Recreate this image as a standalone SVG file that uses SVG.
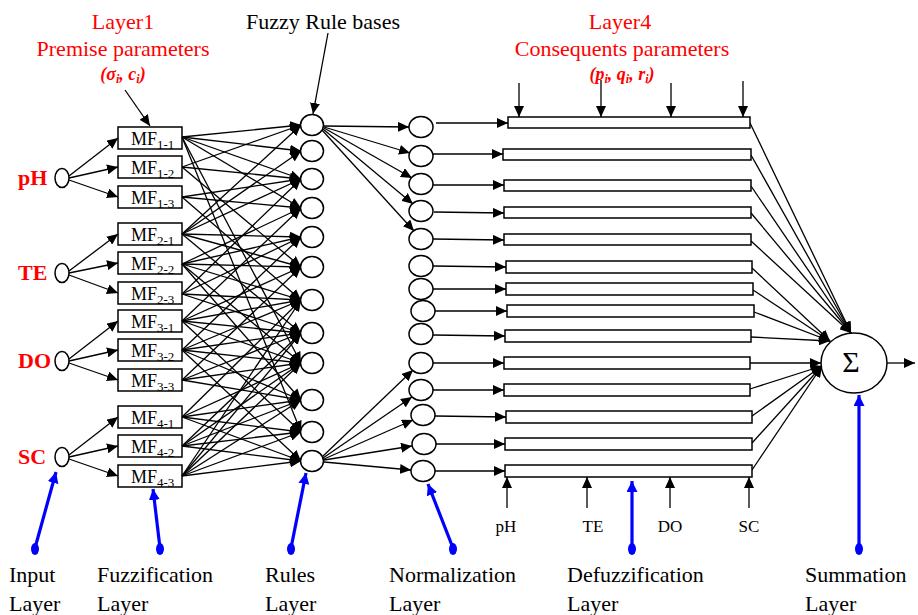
<svg xmlns="http://www.w3.org/2000/svg" width="918" height="615" viewBox="0 0 918 615">
  <style>
    text { font-family: "Liberation Serif", "Times New Roman", serif; }
    .red { fill: #ff0000; }
    .t22 { font-size: 22px; }
    .inp { font-size: 22px; font-weight: bold; fill: #ff0000; }
    .par { font-size: 18px; font-weight: bold; font-style: italic; fill: #ff0000; }
    .mf { font-size: 18px; }
    .sub { font-size: 13px; }
    .small { font-size: 17px; }
    .node { fill: #fff; stroke: #000; stroke-width: 1.5; }
    .bar { fill: #fff; stroke: #000; stroke-width: 1.5; }
    .c { stroke: #000; stroke-width: 1.3; fill: none; marker-end: url(#ah); }
    .b { stroke: #0000ff; stroke-width: 3.2; fill: none; marker-end: url(#bh); }
    .dot { fill: #0000ff; }
  </style>
  <defs>
    <marker id="ah" markerUnits="userSpaceOnUse" markerWidth="12" markerHeight="10" refX="11" refY="5" orient="auto">
      <path d="M0,0 L11,5 L0,10 z" fill="#000"/>
    </marker>
    <marker id="bh" markerUnits="userSpaceOnUse" markerWidth="12" markerHeight="12" refX="11" refY="5.5" orient="auto">
      <path d="M0,0 L11,5.5 L0,11 z" fill="#0000ff"/>
    </marker>
  </defs>
  <rect width="918" height="615" fill="#fff"/>

  <!-- headings -->
  <g id="headings">
    <text class="t22 red" x="123" y="29" text-anchor="middle">Layer1</text>
    <text class="t22 red" x="123" y="56" text-anchor="middle">Premise parameters</text>
    <text class="par" x="123" y="80" text-anchor="middle">(σ<tspan font-size="12" dy="3">i</tspan><tspan dy="-3">, c</tspan><tspan font-size="12" dy="3">i</tspan><tspan dy="-3">)</tspan></text>
    <text class="t22" x="323" y="29" text-anchor="middle">Fuzzy Rule bases</text>
    <text class="t22 red" x="620" y="29" text-anchor="middle">Layer4</text>
    <text class="t22 red" x="622" y="56" text-anchor="middle">Consequents parameters</text>
    <text class="par" x="622" y="80" text-anchor="middle">(p<tspan font-size="12" dy="3">i</tspan><tspan dy="-3">, q</tspan><tspan font-size="12" dy="3">i</tspan><tspan dy="-3">, r</tspan><tspan font-size="12" dy="3">i</tspan><tspan dy="-3">)</tspan></text>
  </g>

  <!-- input nodes -->
  <g id="in-pH"><ellipse class="node" cx="62" cy="178" rx="7" ry="9.5"/><text class="inp" x="18" y="185">pH</text></g>
  <g id="in-TE"><ellipse class="node" cx="62" cy="273" rx="7" ry="9.5"/><text class="inp" x="18" y="280">TE</text></g>
  <g id="in-DO"><ellipse class="node" cx="62" cy="361" rx="7" ry="9.5"/><text class="inp" x="18" y="368">DO</text></g>
  <g id="in-SC"><ellipse class="node" cx="62" cy="457" rx="7" ry="9.5"/><text class="inp" x="18" y="464">SC</text></g>

  <!-- membership function boxes -->
  <g id="mf-1-1"><rect class="node" x="118" y="127" width="64" height="22"/><text class="mf" x="131" y="145">MF<tspan class="sub" dy="4">1-1</tspan></text></g>
  <g id="mf-1-2"><rect class="node" x="118" y="156" width="64" height="22"/><text class="mf" x="131" y="174">MF<tspan class="sub" dy="4">1-2</tspan></text></g>
  <g id="mf-1-3"><rect class="node" x="118" y="186" width="64" height="22"/><text class="mf" x="131" y="204">MF<tspan class="sub" dy="4">1-3</tspan></text></g>
  <g id="mf-2-1"><rect class="node" x="118" y="223" width="64" height="22"/><text class="mf" x="131" y="241">MF<tspan class="sub" dy="4">2-1</tspan></text></g>
  <g id="mf-2-2"><rect class="node" x="118" y="252" width="64" height="22"/><text class="mf" x="131" y="270">MF<tspan class="sub" dy="4">2-2</tspan></text></g>
  <g id="mf-2-3"><rect class="node" x="118" y="282" width="64" height="22"/><text class="mf" x="131" y="300">MF<tspan class="sub" dy="4">2-3</tspan></text></g>
  <g id="mf-3-1"><rect class="node" x="118" y="310" width="64" height="22"/><text class="mf" x="131" y="328">MF<tspan class="sub" dy="4">3-1</tspan></text></g>
  <g id="mf-3-2"><rect class="node" x="118" y="339" width="64" height="22"/><text class="mf" x="131" y="357">MF<tspan class="sub" dy="4">3-2</tspan></text></g>
  <g id="mf-3-3"><rect class="node" x="118" y="369" width="64" height="22"/><text class="mf" x="131" y="387">MF<tspan class="sub" dy="4">3-3</tspan></text></g>
  <g id="mf-4-1"><rect class="node" x="118" y="406" width="64" height="22"/><text class="mf" x="131" y="424">MF<tspan class="sub" dy="4">4-1</tspan></text></g>
  <g id="mf-4-2"><rect class="node" x="118" y="435" width="64" height="22"/><text class="mf" x="131" y="453">MF<tspan class="sub" dy="4">4-2</tspan></text></g>
  <g id="mf-4-3"><rect class="node" x="118" y="465" width="64" height="22"/><text class="mf" x="131" y="483">MF<tspan class="sub" dy="4">4-3</tspan></text></g>

  <!-- connectors -->
  <g id="connectors">
    <!-- inputs to membership functions -->
    <line class="c" x1="69" y1="176" x2="118" y2="138"/>
    <line class="c" x1="69" y1="178" x2="118" y2="167"/>
    <line class="c" x1="69" y1="180" x2="118" y2="197"/>
    <line class="c" x1="69" y1="271" x2="118" y2="234"/>
    <line class="c" x1="69" y1="273" x2="118" y2="263"/>
    <line class="c" x1="69" y1="275" x2="118" y2="293"/>
    <line class="c" x1="69" y1="359" x2="118" y2="321"/>
    <line class="c" x1="69" y1="361" x2="118" y2="350"/>
    <line class="c" x1="69" y1="363" x2="118" y2="380"/>
    <line class="c" x1="69" y1="455" x2="118" y2="417"/>
    <line class="c" x1="69" y1="457" x2="118" y2="446"/>
    <line class="c" x1="69" y1="459" x2="118" y2="476"/>

    <!-- membership functions to rules -->
    <line class="c" x1="182" y1="137" x2="301" y2="125"/>
    <line class="c" x1="182" y1="137" x2="301" y2="151"/>
    <line class="c" x1="182" y1="137" x2="301" y2="179"/>
    <line class="c" x1="182" y1="137" x2="301" y2="208"/>
    <line class="c" x1="182" y1="137" x2="301" y2="363"/>
    <line class="c" x1="182" y1="137" x2="301" y2="432"/>
    <line class="c" x1="182" y1="167" x2="301" y2="125"/>
    <line class="c" x1="182" y1="167" x2="301" y2="179"/>
    <line class="c" x1="182" y1="167" x2="301" y2="267"/>
    <line class="c" x1="182" y1="197" x2="301" y2="179"/>
    <line class="c" x1="182" y1="197" x2="301" y2="208"/>
    <line class="c" x1="182" y1="197" x2="301" y2="300"/>
    <line class="c" x1="182" y1="234" x2="301" y2="125"/>
    <line class="c" x1="182" y1="234" x2="301" y2="151"/>
    <line class="c" x1="182" y1="234" x2="301" y2="179"/>
    <line class="c" x1="182" y1="234" x2="301" y2="237"/>
    <line class="c" x1="182" y1="234" x2="301" y2="267"/>
    <line class="c" x1="182" y1="234" x2="301" y2="333"/>
    <line class="c" x1="182" y1="264" x2="301" y2="208"/>
    <line class="c" x1="182" y1="264" x2="301" y2="237"/>
    <line class="c" x1="182" y1="264" x2="301" y2="267"/>
    <line class="c" x1="182" y1="264" x2="301" y2="300"/>
    <line class="c" x1="182" y1="264" x2="301" y2="363"/>
    <line class="c" x1="182" y1="264" x2="301" y2="400"/>
    <line class="c" x1="182" y1="294" x2="301" y2="179"/>
    <line class="c" x1="182" y1="294" x2="301" y2="237"/>
    <line class="c" x1="182" y1="294" x2="301" y2="300"/>
    <line class="c" x1="182" y1="294" x2="301" y2="333"/>
    <line class="c" x1="182" y1="321" x2="301" y2="208"/>
    <line class="c" x1="182" y1="321" x2="301" y2="267"/>
    <line class="c" x1="182" y1="321" x2="301" y2="300"/>
    <line class="c" x1="182" y1="321" x2="301" y2="333"/>
    <line class="c" x1="182" y1="321" x2="301" y2="363"/>
    <line class="c" x1="182" y1="321" x2="301" y2="432"/>
    <line class="c" x1="182" y1="350" x2="301" y2="237"/>
    <line class="c" x1="182" y1="350" x2="301" y2="300"/>
    <line class="c" x1="182" y1="350" x2="301" y2="333"/>
    <line class="c" x1="182" y1="350" x2="301" y2="363"/>
    <line class="c" x1="182" y1="350" x2="301" y2="400"/>
    <line class="c" x1="182" y1="350" x2="301" y2="461"/>
    <line class="c" x1="182" y1="380" x2="301" y2="267"/>
    <line class="c" x1="182" y1="380" x2="301" y2="333"/>
    <line class="c" x1="182" y1="380" x2="301" y2="363"/>
    <line class="c" x1="182" y1="380" x2="301" y2="400"/>
    <line class="c" x1="182" y1="417" x2="301" y2="300"/>
    <line class="c" x1="182" y1="417" x2="301" y2="363"/>
    <line class="c" x1="182" y1="417" x2="301" y2="400"/>
    <line class="c" x1="182" y1="417" x2="301" y2="432"/>
    <line class="c" x1="182" y1="417" x2="301" y2="461"/>
    <line class="c" x1="182" y1="446" x2="301" y2="333"/>
    <line class="c" x1="182" y1="446" x2="301" y2="363"/>
    <line class="c" x1="182" y1="446" x2="301" y2="400"/>
    <line class="c" x1="182" y1="446" x2="301" y2="432"/>
    <line class="c" x1="182" y1="446" x2="301" y2="461"/>
    <line class="c" x1="182" y1="476" x2="301" y2="300"/>
    <line class="c" x1="182" y1="476" x2="301" y2="333"/>
    <line class="c" x1="182" y1="476" x2="301" y2="363"/>
    <line class="c" x1="182" y1="476" x2="301" y2="400"/>
    <line class="c" x1="182" y1="476" x2="301" y2="432"/>
    <line class="c" x1="182" y1="476" x2="301" y2="461"/>

    <!-- rules to normalization -->
    <line class="c" x1="324" y1="126" x2="409" y2="127"/>
    <line class="c" x1="324" y1="127" x2="410" y2="153"/>
    <line class="c" x1="324" y1="128" x2="412" y2="178"/>
    <line class="c" x1="323" y1="129" x2="413" y2="204"/>
    <line class="c" x1="322" y1="130" x2="414" y2="231"/>
    <line class="c" x1="322" y1="457" x2="413" y2="370"/>
    <line class="c" x1="323" y1="458" x2="412" y2="397"/>
    <line class="c" x1="324" y1="459" x2="413" y2="420"/>
    <line class="c" x1="324" y1="460" x2="412" y2="446"/>
    <line class="c" x1="324" y1="462" x2="411" y2="470"/>

    <!-- normalization to consequent bars -->
    <line class="c" x1="436" y1="123" x2="508" y2="123"/>
    <line class="c" x1="433" y1="154" x2="503" y2="154"/>
    <line class="c" x1="433" y1="185" x2="504" y2="185"/>
    <line class="c" x1="434" y1="212" x2="504" y2="213"/>
    <line class="c" x1="433" y1="239" x2="504" y2="240"/>
    <line class="c" x1="433" y1="266" x2="506" y2="267"/>
    <line class="c" x1="433" y1="289" x2="506" y2="289"/>
    <line class="c" x1="435" y1="311" x2="507" y2="311"/>
    <line class="c" x1="433" y1="335" x2="505" y2="336"/>
    <line class="c" x1="433" y1="363" x2="504" y2="363"/>
    <line class="c" x1="433" y1="390" x2="504" y2="390"/>
    <line class="c" x1="435" y1="416" x2="506" y2="417"/>
    <line class="c" x1="436" y1="444" x2="505" y2="444"/>
    <line class="c" x1="435" y1="471" x2="505" y2="471"/>

    <!-- consequent parameter inputs -->
    <line class="c" x1="519" y1="83" x2="519" y2="117"/>
    <line class="c" x1="601" y1="80" x2="601" y2="117"/>
    <line class="c" x1="671" y1="83" x2="671" y2="117"/>
    <line class="c" x1="743" y1="81" x2="743" y2="117"/>
    <line class="c" x1="507" y1="508" x2="507" y2="477"/>
    <line class="c" x1="587" y1="508" x2="587" y2="477"/>
    <line class="c" x1="670" y1="508" x2="670" y2="477"/>
    <line class="c" x1="749" y1="508" x2="749" y2="477"/>

    <!-- bars to summation -->
    <line class="c" x1="750" y1="123" x2="851" y2="333"/>
    <line class="c" x1="751" y1="155" x2="851" y2="333"/>
    <line class="c" x1="751" y1="186" x2="851" y2="333"/>
    <line class="c" x1="751" y1="213" x2="851" y2="333"/>
    <line class="c" x1="751" y1="241" x2="851" y2="333"/>
    <line class="c" x1="752" y1="268" x2="830" y2="341"/>
    <line class="c" x1="753" y1="290" x2="830" y2="341"/>
    <line class="c" x1="754" y1="312" x2="830" y2="341"/>
    <line class="c" x1="751" y1="337" x2="830" y2="341"/>
    <line class="c" x1="750" y1="363" x2="821" y2="363"/>
    <line class="c" x1="750" y1="389" x2="822" y2="366"/>
    <line class="c" x1="752" y1="416" x2="822" y2="366"/>
    <line class="c" x1="752" y1="443" x2="822" y2="366"/>
    <line class="c" x1="752" y1="470" x2="822" y2="366"/>
    <line class="c" x1="887" y1="363" x2="915" y2="363"/>

    <!-- annotation pointers -->
    <line class="c" x1="125" y1="90" x2="150" y2="126"/>
    <line class="c" x1="328" y1="33" x2="313" y2="114"/>
  </g>

  <!-- rule nodes -->
  <g id="rules">
    <ellipse class="node" cx="312" cy="125" rx="11.5" ry="10.5"/>
    <ellipse class="node" cx="312" cy="151" rx="11.5" ry="10.5"/>
    <ellipse class="node" cx="312" cy="179" rx="11.5" ry="10.5"/>
    <ellipse class="node" cx="312" cy="208" rx="11.5" ry="10.5"/>
    <ellipse class="node" cx="312" cy="237" rx="11.5" ry="10.5"/>
    <ellipse class="node" cx="312" cy="267" rx="11.5" ry="10.5"/>
    <ellipse class="node" cx="312" cy="300" rx="11.5" ry="10.5"/>
    <ellipse class="node" cx="312" cy="333" rx="11.5" ry="10.5"/>
    <ellipse class="node" cx="312" cy="363" rx="11.5" ry="10.5"/>
    <ellipse class="node" cx="312" cy="400" rx="11.5" ry="10.5"/>
    <ellipse class="node" cx="312" cy="432" rx="11.5" ry="10.5"/>
    <ellipse class="node" cx="312" cy="461" rx="11.5" ry="10.5"/>
  </g>

  <!-- normalization nodes -->
  <g id="normalization">
    <ellipse class="node" cx="421" cy="127" rx="12" ry="10.5"/>
    <ellipse class="node" cx="421" cy="156" rx="12" ry="10.5"/>
    <ellipse class="node" cx="421" cy="184" rx="12" ry="10.5"/>
    <ellipse class="node" cx="421" cy="211" rx="12" ry="10.5"/>
    <ellipse class="node" cx="421" cy="239" rx="12" ry="10.5"/>
    <ellipse class="node" cx="421" cy="266" rx="12" ry="10.5"/>
    <ellipse class="node" cx="421" cy="289" rx="12" ry="10.5"/>
    <ellipse class="node" cx="423" cy="311" rx="12" ry="10.5"/>
    <ellipse class="node" cx="421" cy="334" rx="12" ry="10.5"/>
    <ellipse class="node" cx="421" cy="363" rx="12" ry="10.5"/>
    <ellipse class="node" cx="421" cy="390" rx="12" ry="10.5"/>
    <ellipse class="node" cx="423" cy="415" rx="12" ry="10.5"/>
    <ellipse class="node" cx="424" cy="444" rx="12" ry="10.5"/>
    <ellipse class="node" cx="423" cy="471" rx="12" ry="10.5"/>
  </g>

  <!-- consequent (defuzzification) bars -->
  <g id="consequents">
    <rect class="bar" x="508" y="117" width="242" height="11"/>
    <rect class="bar" x="503" y="149" width="248" height="11"/>
    <rect class="bar" x="504" y="180" width="247" height="11"/>
    <rect class="bar" x="504" y="207" width="247" height="11"/>
    <rect class="bar" x="504" y="234" width="247" height="11"/>
    <rect class="bar" x="506" y="261" width="246" height="12"/>
    <rect class="bar" x="506" y="283" width="247" height="12"/>
    <rect class="bar" x="507" y="305" width="247" height="12"/>
    <rect class="bar" x="505" y="330" width="246" height="12"/>
    <rect class="bar" x="504" y="357" width="246" height="12"/>
    <rect class="bar" x="504" y="384" width="246" height="12"/>
    <rect class="bar" x="506" y="411" width="246" height="12"/>
    <rect class="bar" x="505" y="438" width="247" height="12"/>
    <rect class="bar" x="505" y="465" width="247" height="12"/>
    <text class="small" x="506" y="532" text-anchor="middle">pH</text>
    <text class="small" x="593" y="532" text-anchor="middle">TE</text>
    <text class="small" x="670" y="532" text-anchor="middle">DO</text>
    <text class="small" x="749" y="532" text-anchor="middle">SC</text>
  </g>

  <!-- summation node -->
  <g id="summation">
    <ellipse class="node" cx="854" cy="363" rx="33" ry="30"/>
    <text x="851" y="372" font-size="30" text-anchor="middle">Σ</text>
  </g>

  <!-- layer captions -->
  <g id="captions">
    <line class="b" x1="35" y1="548" x2="56" y2="472"/>
    <ellipse class="dot" cx="35" cy="549" rx="4" ry="6"/>
    <line class="b" x1="160" y1="548" x2="153" y2="489"/>
    <ellipse class="dot" cx="160" cy="549" rx="4" ry="6"/>
    <line class="b" x1="291" y1="548" x2="306" y2="473"/>
    <ellipse class="dot" cx="291" cy="549" rx="4" ry="6"/>
    <line class="b" x1="453" y1="548" x2="428" y2="484"/>
    <ellipse class="dot" cx="453" cy="549" rx="4" ry="6"/>
    <line class="b" x1="632" y1="548" x2="632" y2="481"/>
    <ellipse class="dot" cx="632" cy="549" rx="4" ry="6"/>
    <line class="b" x1="859" y1="548" x2="859" y2="395"/>
    <ellipse class="dot" cx="859" cy="549" rx="4" ry="6"/>
    <text class="t22" x="9" y="582">Input</text>
    <text class="t22" x="9" y="611">Layer</text>
    <text class="t22" x="97" y="582">Fuzzification</text>
    <text class="t22" x="97" y="611">Layer</text>
    <text class="t22" x="265" y="582">Rules</text>
    <text class="t22" x="265" y="611">Layer</text>
    <text class="t22" x="389" y="582">Normalization</text>
    <text class="t22" x="389" y="611">Layer</text>
    <text class="t22" x="567" y="582">Defuzzification</text>
    <text class="t22" x="567" y="611">Layer</text>
    <text class="t22" x="805" y="582">Summation</text>
    <text class="t22" x="805" y="611">Layer</text>
  </g>
</svg>
